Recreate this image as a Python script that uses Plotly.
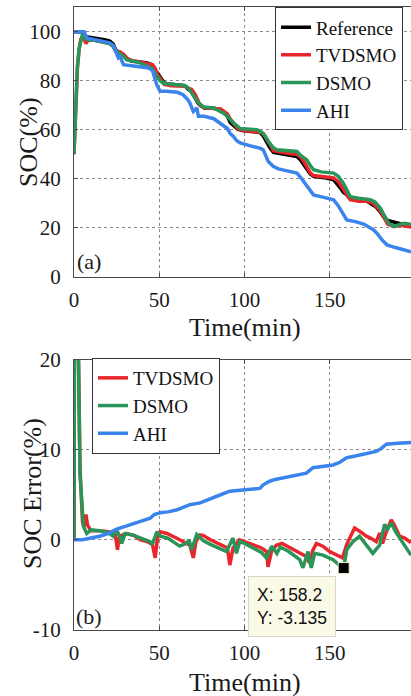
import plotly.graph_objects as go

# ---------------- data: panel (a) SOC ----------------
ref_t = [0, 5, 7, 12, 18, 21, 23, 24.5, 27, 29, 31, 34, 38, 43, 46, 47.6, 49, 51, 53, 57,
         62, 65, 67, 69, 71, 72.6, 74, 76.5, 82, 86, 88, 90, 91.6, 94, 96, 99.4, 104, 109, 111, 113,
         115, 117, 122, 127, 130.8, 133, 134.5, 136.6, 138.5, 140.5, 144, 148, 152.3, 155, 157,
         158, 160, 162, 167, 171.9, 175, 177, 179, 181.6, 184, 187.5, 192, 197.7]
ref_v = [100, 100, 98, 97.5, 96.8, 96.2, 95, 92.5, 91.5, 90.7, 89, 88, 87.8, 87.3, 86.5,
         83.9, 83.2, 81, 79, 78.6, 78.3, 78, 76.5, 75.7, 73, 71, 70, 68.9, 68.8, 68.2,
         67, 65.5, 63, 61.4, 60.2, 59.6, 59.3, 58.9, 57.5, 55, 52.5, 50.8, 50.3, 49.8, 49.1,
         47.5, 46, 43.7, 42, 41, 40.8, 40.3, 39.6, 37.5, 35.5, 34.5, 33.4, 31.8, 31.5, 30.8,
         29.5, 28.6, 27, 24.5, 23, 22.2, 21.5, 20.5]

tv_t = [0, 1, 2, 3, 4, 5, 6, 7, 8, 12, 18, 21, 23, 24.5, 27, 29, 31, 34, 38, 43,
        46, 47.6, 49, 51, 53, 57, 62, 65, 67, 69, 71, 72.6, 74, 76.5, 82, 86, 88, 90, 91.6, 94,
        96, 99.4, 104, 109, 111, 113, 115, 117, 122, 127, 130.8, 133, 134.5, 136.6, 138.5,
        140.5, 144, 148, 152.3, 155, 157, 158, 160, 162, 167, 171.9, 175, 177, 179, 181.6,
        184, 187.5, 192, 197.7]
tv_v = [50, 70, 85, 93, 97, 98, 97, 95.2, 96.5, 96.5, 95.8, 95.2, 94, 92, 91.8, 90.8, 89.2,
        88.2, 87.8, 87.2, 86.5, 85.2, 82.5, 80.5, 78.5, 78, 78, 77.8, 77, 76.5, 74.5, 72, 70,
        69, 68.8, 68.5, 67.5, 66.5, 64.5, 62, 60.5, 59.7, 59.5, 59, 58.5, 56.5, 54, 51.5, 50.7,
        50.2, 50, 48.8, 47.5, 45, 42.5, 41.3, 41, 40.8, 40.3, 38.8, 37, 35.8, 33.5, 31.5, 30.8,
        30.8, 30.2, 29, 27.5, 24.5, 21.5, 20.5, 21, 20.3]

ds_t = [0, 0.5, 1, 1.5, 2, 3, 4, 5, 6, 7.4, 12, 18, 21, 23, 24.5, 27, 29, 31, 34, 38,
        42.7, 46, 48.5, 50.5, 52.5, 57, 62, 65, 67, 69, 71, 73, 76, 82, 87.7, 90, 93.5, 95.5,
        97.5, 103, 107.3, 110, 112, 114, 116.5, 119, 125, 130.8, 133, 136.6, 138.5, 140.5, 145,
        152.3, 155, 158, 160, 162, 167, 173.8, 176.5, 179.7, 182, 184.6, 187.5, 190, 193.4, 197.7]
ds_v = [50, 62, 72, 80, 86, 93, 97, 99, 98, 96.8, 96.5, 95.8, 95.2, 94, 92, 91, 90, 88.5, 88,
        87.5, 86, 85, 81.8, 80, 79, 78.7, 78.4, 78, 77, 75, 73, 71, 69.3, 68.9, 66.8, 65.5,
        62.8, 61.5, 60.5, 60.2, 60, 59, 57.5, 55.2, 53, 51.8, 51.5, 51.1, 49.5, 47.7, 45.5,
        43.7, 42.8, 42.3, 41, 38.2, 35.5, 32.7, 32, 31.4, 30.5, 28, 25, 21.8, 20.5, 21.2, 21.8, 21.4]

ahi_t = [0, 6, 7.5, 15, 21, 23, 24.5, 26, 27, 29, 35, 43, 46, 48.5, 50.5, 54.4, 60.7, 64,
         66.7, 68, 70, 72, 73, 76.5, 82, 87.7, 90, 91.6, 93.5, 95.5, 97.5, 103, 109, 111, 114,
         117, 120, 125, 130.8, 133, 136.6, 138, 140.5, 146, 152.3, 155, 158, 160, 165, 170,
         175.8, 178, 180.7, 183.6, 188, 193, 197.7]
ahi_v = [100, 100, 97.5, 96.5, 95.5, 94.5, 91.5, 89.4, 90, 86.6, 86, 85.3, 84.3, 78.4, 75.7,
         75.7, 75.3, 74.3, 72.3, 70.9, 67.5, 68.9, 65.5, 65.5, 64.5, 61.4, 60.5, 58.5, 57.3,
         55.5, 54.6, 53.5, 52.5, 51.8, 47, 45, 44, 43.2, 42.3, 40.5, 36.8, 35.5, 33.4, 32.5,
         31.4, 29, 25.9, 23.2, 22.5, 21.5, 19.1, 17.5, 15, 13, 12, 11, 10.2]

# ---------------- data: panel (b) SOC error ----------------
tv_err_t = [0, 0.3, 2.5, 3.5, 5, 6, 7, 8, 10, 15, 20, 24, 25.5, 26.5, 28, 31, 35, 39, 43, 46,
            47.6, 49, 50.5, 54.5, 60, 66, 68, 70, 71.5, 74, 75.7, 80, 85, 90, 91.4, 93.3, 97,
            100, 105, 110, 112.9, 113.8, 116, 118.7, 122, 127, 132, 136.3, 138.3, 140, 142.2,
            146, 150, 155.8, 157.5, 160, 164.6, 168, 171.5, 174, 177.3, 179.3, 181, 183, 186.1,
            188, 191, 194, 197.7]
tv_err_v = [0, 25, 22, 8, 2, 1.5, 2.8, 1.6, 1.0, 1.0, 0.9, 0.8, -1.1, 0.2, 0.5, 0.7, 0.5, 0,
            -0.2, -0.5, -2.0, 0.2, 0.9, 0.7, 0.2, -0.4, -0.6, -2.0, -0.2, 0.55, 0.5, 0, -0.5,
            -0.9, -2.8, -0.9, 0, -0.2, -0.5, -0.9, -1.3, -3.0, -1.2, -0.6, -0.4, -0.9, -1.4,
            -1.85, -2.6, -1.2, -0.4, -0.7, -1.3, -1.85, -2.0, -0.5, 1.3, 0.9, 0.4, 0.2, -0.2,
            0.75, -0.4, 0.8, 2.2, 1.6, 0.4, 0.2, -0.3]

ds_err_t = [0, 0.3, 2.5, 3.5, 5.5, 7.5, 10, 15, 20, 23, 25, 27, 28, 30, 35, 40, 44.7, 46,
            48.6, 50.6, 55, 62, 66, 67.5, 69, 72, 76, 80, 85, 89.4, 93.3, 95.3, 97.2, 100, 105,
            110, 112.9, 116, 119, 121, 126, 132.4, 134.3, 137.3, 139.2, 141.2, 146, 152, 156.8,
            158.2, 160, 163.6, 167.5, 171, 175.3, 179.3, 182.2, 184, 186.1, 189, 192.9, 197.7]
ds_err_v = [0, 25, 22, 7.4, 1.5, 0.7, 1.1, 1.0, 0.8, 0.4, 1.1, 0.3, -0.4, 0.7, 0.5, 0.1, -0.2,
            -0.5, 0.9, 0.4, 0.2, -0.7, -0.4, 0, -1.1, 0.6, -0.1, -0.5, -0.9, -1.3, 0.2, -1.5,
            -0.2, -0.4, -0.9, -1.4, -2.0, -0.7, -1.5, -0.8, -1.3, -2.2, -3.1, -1.3, -3.1, -1.5,
            -1.7, -2.2, -3.0, -3.135, -1.1, -0.2, 0.4, -0.5, -1.5, -0.6, 1.7, 1.2, 1.85, 0.8,
            -0.4, -1.7]

ahi_err_t = [0, 5, 10, 15, 20, 25, 30, 35, 40, 44.7, 47, 50.6, 55, 60, 64, 68, 74, 80, 86,
             91.4, 100, 105, 109, 111, 114.8, 118, 123, 128, 133, 136.3, 140.2, 146, 152, 156,
             159.8, 165, 172, 177.3, 180, 183.2, 190, 197.7]
ahi_err_v = [0, 0, 0.2, 0.4, 0.7, 1.2, 1.5, 1.8, 2.1, 2.4, 2.8, 3.0, 3.1, 3.3, 3.6, 3.9, 4.1,
             4.5, 5.0, 5.4, 5.5, 5.6, 5.7, 6.1, 6.5, 6.7, 6.9, 7.1, 7.3, 7.4, 8.0, 8.1, 8.3, 8.6,
             9.1, 9.3, 9.6, 9.8, 10.1, 10.6, 10.7, 10.8]

tip_x = [158.2]
tip_y = [-3.135]

x_ticks = [0, 50, 100, 150]
x_labels = ["0", "50", "100", "150"]
soc_ticks = [0, 20, 40, 60, 80, 100]
soc_labels = ["0", "20", "40", "60", "80", "100"]
err_ticks = [-10, 0, 10, 20]
err_labels = ["-10", "0", "10", "20"]

# ---------------- style ----------------
C_REF = "#000000"
C_TV = "#e8262b"
C_DS = "#2a9558"
C_AHI = "#3a84ec"
SERIF = "Liberation Serif, Times New Roman, serif"
SANS = "Liberation Sans, Arial, sans-serif"
W, H = 411, 696
AX = "#4a4a4a"
TXT = "#1a1a1a"
LW = 3.5

fig = go.Figure()

def add(t, v, name, color, xa, ya, legend, show=True):
    fig.add_trace(go.Scatter(x=t, y=v, name=name, mode="lines",
                             line=dict(color=color, width=LW),
                             xaxis=xa, yaxis=ya, legend=legend, showlegend=show))

add(ref_t, ref_v, "Reference", C_REF, "x", "y", "legend")
add(tv_t, tv_v, "TVDSMO", C_TV, "x", "y", "legend")
add(ds_t, ds_v, "DSMO", C_DS, "x", "y", "legend")
add(ahi_t, ahi_v, "AHI", C_AHI, "x", "y", "legend")

add(tv_err_t, tv_err_v, "TVDSMO", C_TV, "x2", "y2", "legend2")
add(ds_err_t, ds_err_v, "DSMO", C_DS, "x2", "y2", "legend2")
add(ahi_err_t, ahi_err_v, "AHI", C_AHI, "x2", "y2", "legend2")

fig.add_trace(go.Scatter(x=tip_x, y=tip_y, mode="markers", showlegend=False,
                         marker=dict(symbol="square", size=11, color="black",
                                     line=dict(color="#f3f0c8", width=1)),
                         xaxis="x2", yaxis="y2"))

x0 = 74 / W
def pdy(py):
    return 1 - py / H

tickfont = dict(family=SERIF, size=21, color=TXT)
common_x = dict(range=[0, 197.7], tickvals=x_ticks, ticktext=x_labels, showgrid=True,
                griddash="dot", gridcolor="#8a8a8a", gridwidth=1, showline=True,
                linecolor=AX, linewidth=1, mirror="ticks", ticks="inside", ticklen=4,
                tickcolor=AX, zeroline=False, tickfont=tickfont, automargin=False,
                domain=[x0, 1], ticklabelstandoff=4)
common_y = dict(showgrid=True, griddash="dot", gridcolor="#8a8a8a", gridwidth=1,
                showline=True, linecolor=AX, linewidth=1, ticks="inside", ticklen=4,
                tickcolor=AX, zeroline=False, tickfont=tickfont, automargin=False,
                ticklabelstandoff=8)

legfont = dict(family=SERIF, size=19, color="#111111")
fig.update_layout(
    width=W, height=H, autosize=False,
    margin=dict(l=0, r=0, t=0, b=0, autoexpand=False),
    paper_bgcolor="white", plot_bgcolor="white",
    xaxis=dict(common_x, anchor="y"),
    yaxis=dict(common_y, range=[0, 110], tickvals=soc_ticks, ticktext=soc_labels,
               domain=[pdy(276.7), pdy(7.3)], anchor="x"),
    xaxis2=dict(common_x, anchor="y2"),
    yaxis2=dict(common_y, range=[-10, 20], tickvals=err_ticks, ticktext=err_labels,
                domain=[pdy(630), pdy(359.5)], anchor="x2"),
    legend=dict(x=275 / W, y=pdy(7.3), xref="container", yref="container",
                xanchor="left", yanchor="top",
                bgcolor="white", bordercolor="#333333", borderwidth=1,
                font=legfont, tracegroupgap=0, itemwidth=30),
    legend2=dict(x=92 / W, y=pdy(358), xref="container", yref="container",
                 xanchor="left", yanchor="top",
                 bgcolor="white", bordercolor="#333333", borderwidth=1,
                 font=legfont, tracegroupgap=0, itemwidth=30),
)

def lab(text, px, py, size, angle=0, xa="center"):
    return dict(text=text, x=px / W, y=pdy(py), xref="paper", yref="paper",
                xanchor=xa, yanchor="middle", textangle=angle, showarrow=False,
                font=dict(family=SERIF, size=size, color=TXT))

ann = [
    lab("Time(min)", 245, 327, 26),
    lab("Time(min)", 245, 682, 26),
    lab("SOC(%)", 28, 142, 26, -90),
    lab("SOC Error(%)", 32, 494, 26, -90),
    lab("(a)", 75, 262, 22, 0, "left"),
    lab("(b)", 74, 616, 22, 0, "left"),
    dict(text="X: 158.2<br>Y: -3.135", x=tip_x[0], y=tip_y[0], xref="x2", yref="y2",
         xanchor="right", yanchor="top", xshift=-8, yshift=-8, align="left",
         showarrow=False, bgcolor="#fbfae6", bordercolor="#d6d6cc", borderwidth=1,
         borderpad=8, font=dict(family=SANS, size=17.5, color="#111111")),
]
fig.update_layout(annotations=ann)

fig.write_html("out.html")
